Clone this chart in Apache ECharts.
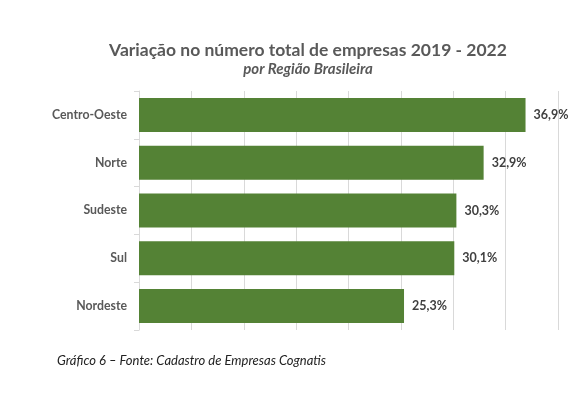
<!DOCTYPE html>
<html>
<head>
<meta charset="utf-8">
<script src="https://cdn.jsdelivr.net/npm/echarts@6/dist/echarts.min.js"></script>
<style>
    body { margin: 0; background: #fff; }
    #chart { width: 588px; height: 396px; }
</style>
</head>
<body>
<div id="chart"></div>
<script>
    // regiões (de cima para baixo) e variação em %
    var regioes = ['Centro-Oeste', 'Norte', 'Sudeste', 'Sul', 'Nordeste'];
    var variacao = [36.9, 32.9, 30.3, 30.1, 25.3];

    var chart = echarts.init(document.getElementById('chart'));
    chart.setOption({
        animation: false,
        textStyle: { fontFamily: 'Lato' },
        title: [{
            text: 'Variação no número total de empresas 2019 - 2022',
            left: 303, top: 36, textAlign: 'center',
            textStyle: { fontSize: 17.5, fontWeight: 'bold', color: '#595959', fontFamily: 'Lato' }
        }, {
            text: 'por Região Brasileira',
            left: 303, top: 57, textAlign: 'center',
            textStyle: { fontSize: 15, fontWeight: 'bold', fontStyle: 'italic', color: '#595959', fontFamily: 'Lato' }
        }, {
            text: 'Gráfico 6 – Fonte: Cadastro de Empresas Cognatis',
            left: 52, top: 349,
            textStyle: { fontSize: 13, fontWeight: 'normal', fontStyle: 'italic', color: '#222', fontFamily: 'Lato' }
        }],
        grid: { left: 139, right: 30, top: 91, bottom: 66 },
        xAxis: {
            type: 'value', min: 0, max: 40, interval: 5,
            axisLabel: { show: false },
            axisLine: { show: false },
            axisTick: { show: false },
            splitLine: { show: true, lineStyle: { color: '#d9d9d9', width: 1 } }
        },
        yAxis: {
            type: 'category', inverse: true, data: regioes,
            axisLine: { show: true, lineStyle: { color: '#d9d9d9' } },
            axisTick: { show: true, length: 5, lineStyle: { color: '#d9d9d9' } },
            axisLabel: { fontSize: 12.3, fontWeight: 'bold', color: '#595959', margin: 12, fontFamily: 'Lato' }
        },
        series: [{
            type: 'bar',
            data: variacao,
            barWidth: 34,
            itemStyle: { color: '#548235' },
            label: {
                show: true, position: 'right', distance: 8,
                fontSize: 12.5, fontWeight: 'bold', color: '#404040', fontFamily: 'Lato',
                formatter: function (p) { return p.value.toFixed(1).replace('.', ',') + '%'; }
            }
        }]
    });
</script>
</body>
</html>
